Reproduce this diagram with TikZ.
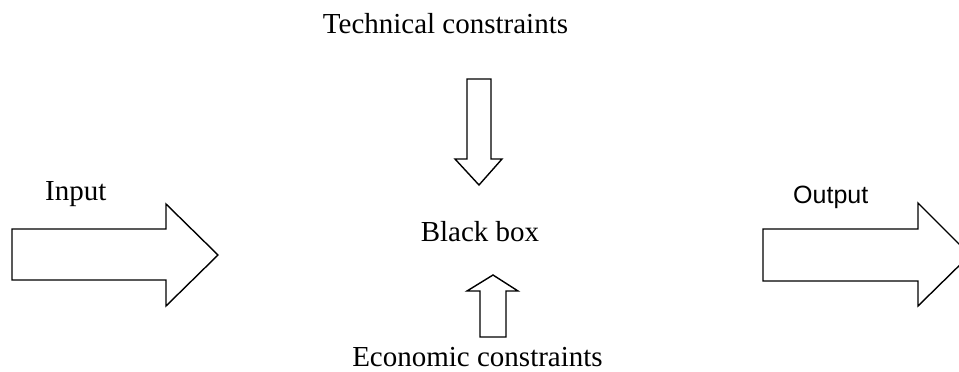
\documentclass[tikz,border=0pt]{standalone}
\usepackage{fontspec}
\setmainfont{Liberation Serif}
\newfontfamily\arialfont{Liberation Sans}
\begin{document}
\begin{tikzpicture}[x=1pt,y=-1pt,
  blockarrow/.style={draw=black,line width=1.4pt,line join=miter,fill=white},
  serlabel/.style={anchor=base,inner sep=0pt,font=\fontsize{29}{32}\selectfont},
  sanslabel/.style={anchor=base west,inner sep=0pt,font=\arialfont\fontsize{25}{28}\selectfont}]
\useasboundingbox (0,0) rectangle (959,372);
\begin{scope}
\clip (0,0) rectangle (959,372);
% input arrow
\draw[blockarrow] (12,229) -- (166,229) -- (166,204) -- (218,255) -- (166,306) -- (166,280) -- (12,280) -- cycle;
% output arrow
\draw[blockarrow] (763,229) -- (918,229) -- (918,203) -- (970,255) -- (918,306) -- (918,281) -- (763,281) -- cycle;
% technical arrow
\draw[blockarrow] (467,79) -- (491,79) -- (491,159) -- (502,159) -- (479,185) -- (455,159) -- (467,159) -- cycle;
% economic arrow
\draw[blockarrow] (480,337) -- (506,337) -- (506,291) -- (518,291) -- (493,275) -- (467,291) -- (480,291) -- cycle;
\end{scope}
\node[serlabel] (tech) at (445.5,33) {Technical constraints};
\node[serlabel,anchor=base west] (input) at (45,200) {Input};
\node[sanslabel] (output) at (793,203) {Output};
\node[serlabel] (bbox) at (480,241) {Black box};
\node[serlabel] (econ) at (477.5,366) {Economic constraints};
\end{tikzpicture}
\end{document}
